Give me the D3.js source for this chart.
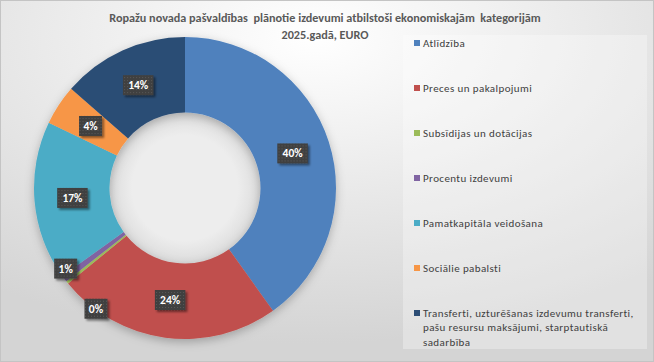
<!DOCTYPE html>
<html>
<head>
<meta charset="utf-8">
<script src="https://cdn.jsdelivr.net/npm/d3@7"></script>
<style>
  body { margin: 0; background: #fff; }
  text { font-family: Carlito, Calibri, Lato, sans-serif; }
</style>
</head>
<body>
<div id="chart"></div>
<script>
const categories = [
  'Atlīdzība',
  'Preces un pakalpojumi',
  'Subsīdijas un dotācijas',
  'Procentu izdevumi',
  'Pamatkapitāla veidošana',
  'Sociālie pabalsti',
  'Transferti, uzturēšanas izdevumu transferti, pašu resursu maksājumi, starptautiskā sadarbība'
]
const shares = [40.1, 24.0, 0.3, 0.7, 17.0, 4.3, 13.6]
const colors = ['#4f81bd', '#c0504d', '#9bbb59', '#8064a2', '#4bacc6', '#f79646', '#2c4d75']
const titleLines = ['Ropažu novada pašvaldības  plānotie izdevumi atbilstoši ekonomiskajām  kategorijām', '2025.gadā, EURO']

const width = 654
const height = 362

const svg = d3.select('#chart').append('svg')
  .attr('width', width)
  .attr('height', height)

const defs = svg.append('defs')

// background gradient
const bg = defs.append('radialGradient')
  .attr('id', 'bg')
  .attr('cx', '48%').attr('cy', '10%').attr('r', '85%')
bg.append('stop').attr('offset', '0%').attr('stop-color', '#ffffff')
bg.append('stop').attr('offset', '100%').attr('stop-color', '#d4d4d4')

const hole = defs.append('radialGradient')
  .attr('id', 'hole')
hole.append('stop').attr('offset', '70%').attr('stop-color', '#ededed')
hole.append('stop').attr('offset', '100%').attr('stop-color', '#dcdcdc')

const shadow = defs.append('filter').attr('id', 'shadow')
  .attr('x', '-20%').attr('y', '-20%').attr('width', '140%').attr('height', '140%')
shadow.append('feDropShadow')
  .attr('dx', 0).attr('dy', 3).attr('stdDeviation', 5)
  .attr('flood-color', '#000').attr('flood-opacity', 0.25)

const boxShadow = defs.append('filter').attr('id', 'boxShadow')
  .attr('x', '-30%').attr('y', '-30%').attr('width', '160%').attr('height', '160%')
boxShadow.append('feDropShadow')
  .attr('dx', 2).attr('dy', 2).attr('stdDeviation', 1.2)
  .attr('flood-color', '#000').attr('flood-opacity', 0.45)

const dots = defs.append('pattern')
  .attr('id', 'dots')
  .attr('width', 3).attr('height', 3)
  .attr('patternUnits', 'userSpaceOnUse')
dots.append('rect').attr('width', 3).attr('height', 3).attr('fill', '#3f3f3f')
dots.append('rect').attr('x', 1).attr('y', 1).attr('width', 1).attr('height', 1).attr('fill', '#5a5a5a')

svg.append('rect')
  .attr('x', 0.5).attr('y', 0.5)
  .attr('width', width - 1).attr('height', height - 1)
  .attr('fill', 'url(#bg)')
  .attr('stroke', '#c4c4c4')

// title
svg.append('g').selectAll('text')
  .data(titleLines)
  .enter().append('text')
  .attr('x', 325)
  .attr('y', (d, i) => 22 + i * 17)
  .attr('text-anchor', 'middle')
  .attr('font-size', '12.2px')
  .attr('font-weight', 'bold')
  .attr('fill', '#595959')
  .attr('xml:space', 'preserve')
  .text(d => d)

// donut
const cx = 185
const cy = 188
const outerR = 151
const innerR = 75.5

const pie = d3.pie().sort(null).value(d => d)
const arcs = pie(shares)
const arc = d3.arc().innerRadius(innerR).outerRadius(outerR)

const donut = svg.append('g').attr('transform', 'translate(' + cx + ',' + cy + ')')

donut.append('circle')
  .attr('r', innerR)
  .attr('fill', 'url(#hole)')

donut.append('g')
  .attr('filter', 'url(#shadow)')
  .selectAll('path')
  .data(arcs)
  .enter().append('path')
  .attr('d', arc)
  .attr('fill', (d, i) => colors[i])

// labels; tiny slices get pushed outward like Excel's best fit
const labelArc = d3.arc().innerRadius(113).outerRadius(113)
const nudge = { 2: { r: 150, da: -0.26 }, 3: { r: 144, da: 0.05 } }
const fmt = d => Math.round(d) + '%'
const boxW = d => fmt(d.data).length * 7.5 + 8

const labels = donut.append('g').selectAll('g')
  .data(arcs)
  .enter().append('g')
  .attr('transform', (d, i) => {
    let p = labelArc.centroid(d)
    if (nudge[i]) {
      const a = (d.startAngle + d.endAngle) / 2 + nudge[i].da
      p = [Math.sin(a) * nudge[i].r, -Math.cos(a) * nudge[i].r]
    }
    return 'translate(' + p[0] + ',' + p[1] + ')'
  })

labels.append('rect')
  .attr('x', d => -boxW(d) / 2)
  .attr('y', -10)
  .attr('width', boxW)
  .attr('height', 20)
  .attr('fill', 'url(#dots)')
  .attr('filter', 'url(#boxShadow)')

labels.append('text')
  .attr('text-anchor', 'middle')
  .attr('dy', '0.35em')
  .attr('font-size', '11.5px')
  .attr('font-weight', 'bold')
  .attr('fill', '#fff')
  .text(d => fmt(d.data))

// legend
const legend = svg.append('g')
legend.append('rect')
  .attr('x', 403).attr('y', 35)
  .attr('width', 244).attr('height', 314)
  .attr('fill', '#ffffff').attr('fill-opacity', 0.3)

const wrapLines = [
  ['Atlīdzība'],
  ['Preces un pakalpojumi'],
  ['Subsīdijas un dotācijas'],
  ['Procentu izdevumi'],
  ['Pamatkapitāla veidošana'],
  ['Sociālie pabalsti'],
  ['Transferti, uzturēšanas izdevumu transferti,', 'pašu resursu maksājumi, starptautiskā', 'sadarbība']
]

const legendY = d3.scalePoint().domain(categories).range([43, 313])

const items = legend.selectAll('.item')
  .data(categories)
  .enter().append('g')
  .attr('class', 'item')
  .attr('transform', d => 'translate(414,' + legendY(d) + ')')

items.append('rect')
  .attr('x', 0).attr('y', -3)
  .attr('width', 6).attr('height', 6)
  .attr('fill', (d, i) => colors[i])

items.append('text')
  .attr('x', 9)
  .attr('font-size', '11px')
  .attr('letter-spacing', '0.4px')
  .attr('fill', '#404040')
  .selectAll('tspan')
  .data((d, i) => wrapLines[i])
  .enter().append('tspan')
  .attr('x', 9)
  .attr('dy', (d, j) => j === 0 ? '0.35em' : '14.5px')
  .text(d => d)
</script>
</body>
</html>
